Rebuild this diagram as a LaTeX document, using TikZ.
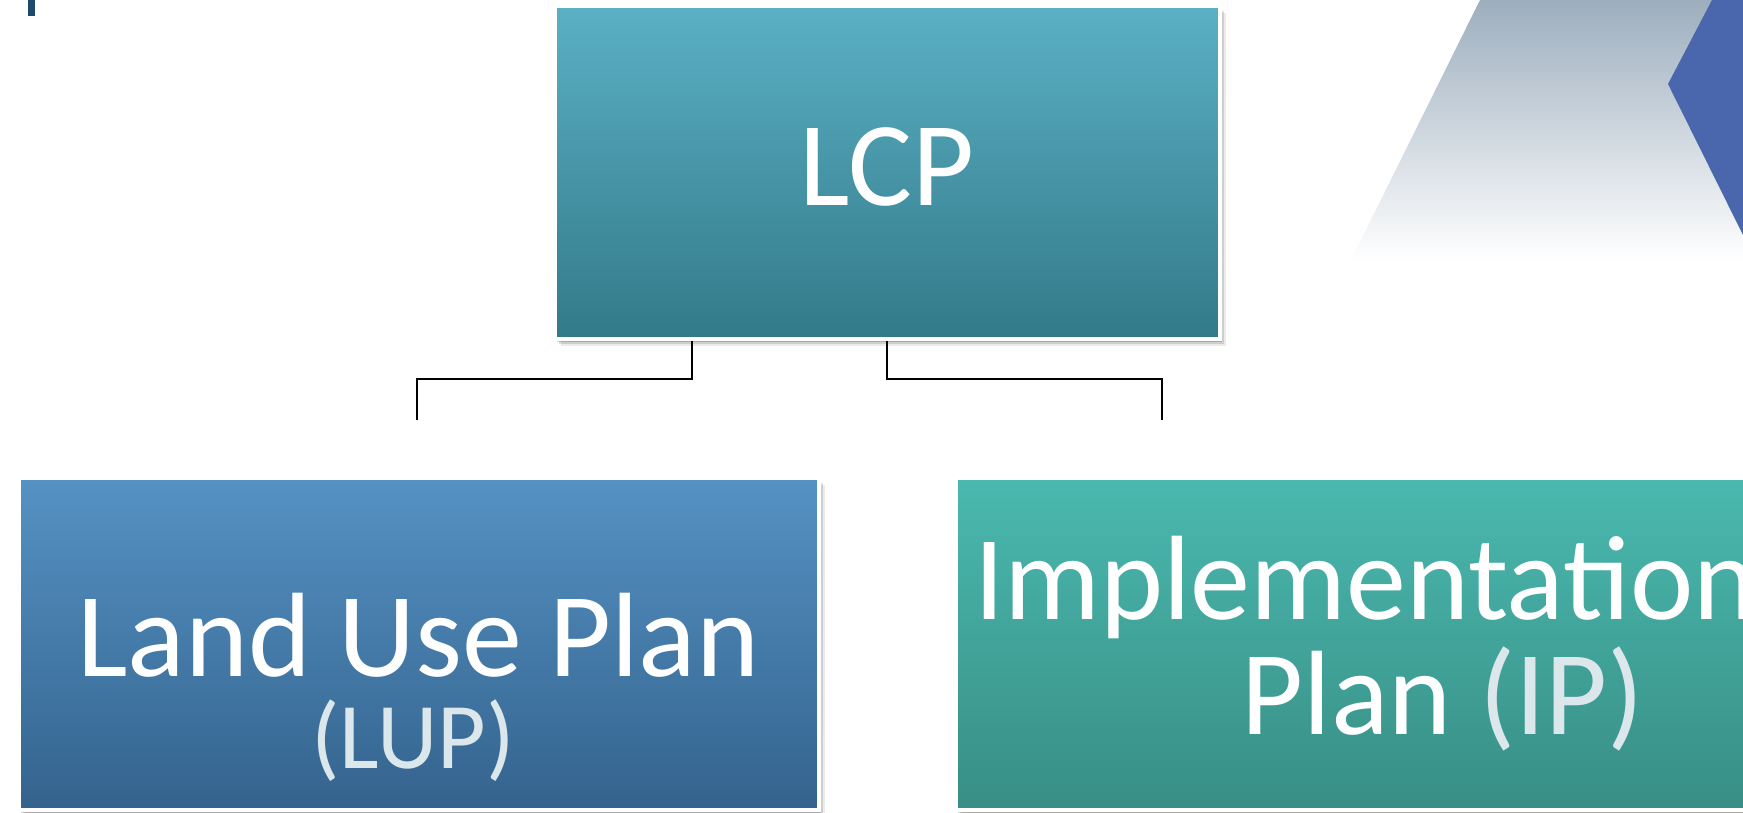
\documentclass[tikz,border=0pt]{standalone}
\usepackage{fontspec}
\setmainfont{Carlito}
\usepackage{tikz}
\usetikzlibrary{positioning, shadows, calc}

\definecolor{lcptop}{HTML}{5BB0C4}
\definecolor{lcpbot}{HTML}{327A8A}
\definecolor{luptop}{HTML}{5592C4}
\definecolor{lupbot}{HTML}{34638D}
\definecolor{iptop}{HTML}{4AB9AF}
\definecolor{ipbot}{HTML}{388E85}
\definecolor{chevblue}{HTML}{4A66AD}
\definecolor{bandgray}{HTML}{9DAEBE}
\definecolor{bardark}{HTML}{1B4A6B}
\definecolor{parengray}{HTML}{DCE7EC}

\begin{document}
\begin{tikzpicture}[x=1pt, y=-1pt,
    % Box styles
    basebox/.style={draw=white, line width=4pt, inner sep=0pt, minimum height=332pt,
        drop shadow={shadow xshift=6pt, shadow yshift=-7pt, opacity=0.08, fill=black},
        drop shadow={shadow xshift=4pt, shadow yshift=-5pt, opacity=0.12, fill=black},
        drop shadow={shadow xshift=2pt, shadow yshift=-3pt, opacity=0.18, fill=black}},
    topbox/.style={basebox, minimum width=665pt, top color=lcptop, bottom color=lcpbot},
    leftbox/.style={basebox, minimum width=800pt, top color=luptop, bottom color=lupbot},
    rightbox/.style={basebox, minimum width=800pt, top color=iptop, bottom color=ipbot},
    % Text styles
    bigtext/.style={text=white, font=\fontsize{120}{120}\selectfont, anchor=base, inner sep=0pt},
    smalltext/.style={bigtext, text=parengray, font=\fontsize{94}{94}\selectfont},
    conn/.style={draw=black, line width=2pt}
]
\useasboundingbox (0,0) rectangle (1743,813);

% Background shapes
\fill[bardark] (28,0) rectangle (35,16);
\shade[top color=bandgray, bottom color=white] (1480,0) -- (1350,262) -- (1743,262) -- (1743,0) -- cycle;
\fill[chevblue] (1712,0) -- (1668,84) -- (1743,235) -- (1743,0) -- cycle;

% Boxes
\node[topbox] (lcp) at (887,172.5) {};
\node[leftbox] (lup) at (418.5,644) {};
\node[rightbox] (ip) at (1356,644) {};

% Labels
\node[bigtext] (lcptext) at (887,206) {LCP};
\node[bigtext] (luptext) at (418.5,676) {Land Use Plan};
\node[smalltext] (lupabbr) at (413,768) {(LUP)};
\node[bigtext, anchor=base west] (iptext) at (974,619) {Implementation};
\node[bigtext] (ipplan) at (1443,734) {Plan \textcolor{parengray}{(IP)}};

% Connectors
\coordinate (lupend) at (417,420);
\coordinate (ipend) at (1162,420);
\draw[conn] ([xshift=-195pt]lcp.south) -- ++(0,38.5) -| (lupend);
\draw[conn] (lcp.south) -- ++(0,38.5) -| (ipend);

\end{tikzpicture}
\end{document}
